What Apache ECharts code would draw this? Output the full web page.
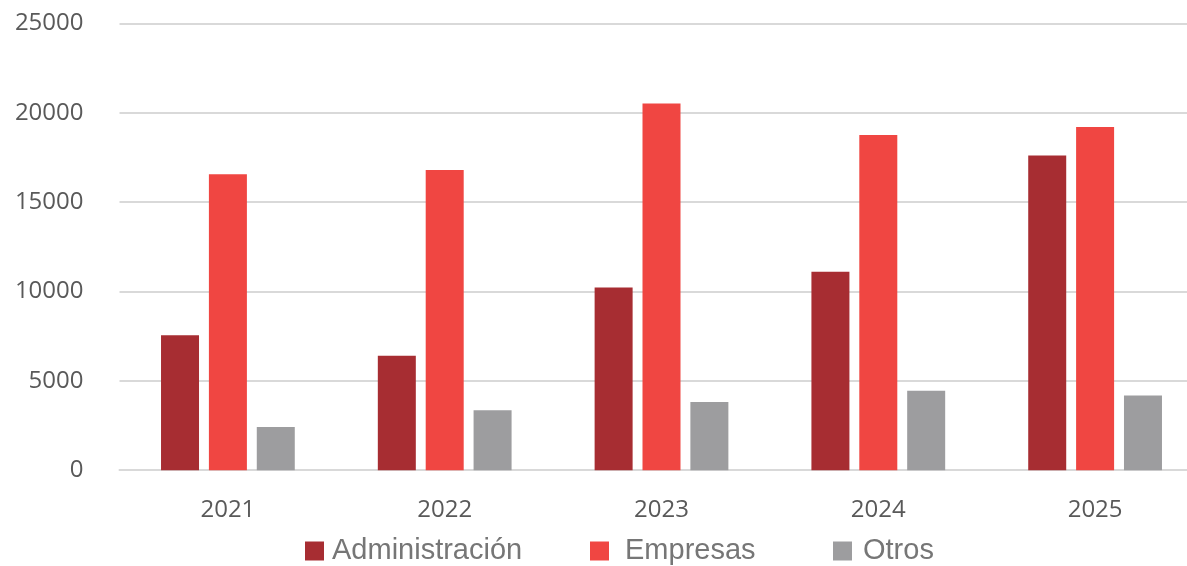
<!DOCTYPE html>
<html>
<head>
<meta charset="utf-8">
<style>
html,body{margin:0;padding:0;background:#fff;overflow:hidden;}
#main{width:1204px;height:566px;}
</style>
<script src="https://cdn.jsdelivr.net/npm/echarts@6/dist/echarts.min.js"></script>
</head>
<body>
<div id="main"></div>
<script>
const categories = ['2021', '2022', '2023', '2024', '2025'];
const administracion = [7550, 6400, 10220, 11100, 17600];
const empresas = [16550, 16800, 20520, 18750, 19200];
const otros = [2410, 3360, 3820, 4440, 4180];
const yTicks = [0, 5000, 10000, 15000, 20000, 25000];

const chart = echarts.init(document.getElementById('main'), null, {renderer: 'canvas'});
const legendText = {fontFamily: 'Liberation Sans', fontSize: 29, color: '#767676'};
const mkLegend = (name, left, pad) => ({
  data: [name], left: left, top: 536.5, padding: 0, itemWidth: 19, itemHeight: 19, icon: 'rect',
  textStyle: Object.assign({padding: [0, 0, 0, pad]}, legendText)
});
chart.setOption({
  animation: false,
  grid: {left: 119.5, width: 1084, top: 23.3, bottom: 95.8, containLabel: false},
  legend: [
    mkLegend('Administración', 305, 3),
    mkLegend('Empresas', 590, 11),
    mkLegend('Otros', 833, 6)
  ],
  xAxis: {
    type: 'category', data: categories,
    axisLine: {show: true, lineStyle: {color: '#d9d9d9', width: 2}},
    axisTick: {show: false},
    axisLabel: {fontFamily: 'Open Sans', fontSize: 24, color: '#595959', margin: 28}
  },
  yAxis: {
    type: 'value', min: yTicks[0], max: yTicks[yTicks.length - 1], interval: 5000,
    axisLine: {show: false}, axisTick: {show: false},
    splitLine: {lineStyle: {color: '#d9d9d9', width: 2}},
    axisLabel: {fontFamily: 'Open Sans', fontSize: 24, color: '#595959', margin: 36,
      formatter: v => String(v)}
  },
  series: [
    {name: 'Administración', type: 'bar', data: administracion, barWidth: 38, barGap: '26%',
     itemStyle: {color: '#A72D32'}},
    {name: 'Empresas', type: 'bar', data: empresas, barWidth: 38, barGap: '26%',
     itemStyle: {color: '#F04642'}},
    {name: 'Otros', type: 'bar', data: otros, barWidth: 38, barGap: '26%',
     itemStyle: {color: '#9D9D9F'}}
  ]
});
</script>
</body>
</html>
